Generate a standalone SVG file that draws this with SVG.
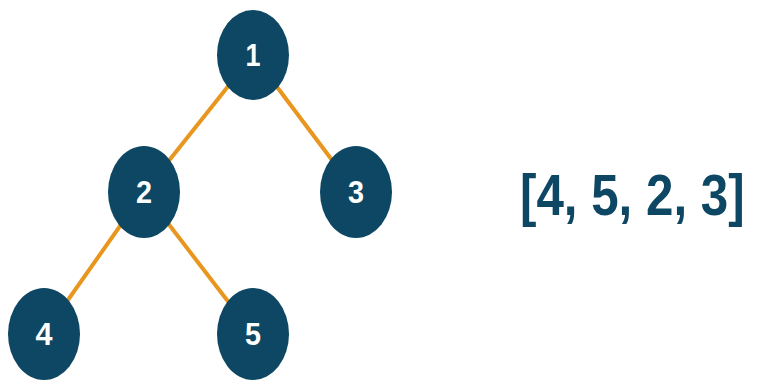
<svg xmlns="http://www.w3.org/2000/svg" width="767" height="385" viewBox="0 0 767 385">
<style>
.edge{stroke:#E8961E;stroke-width:4;fill:none}
.node ellipse{fill:#0D4763}
.node text{fill:#ffffff;font-family:"Liberation Sans",Arial,sans-serif;font-weight:bold;font-size:32px;text-anchor:middle}
.arr{fill:#0D4763;font-family:"Liberation Sans",Arial,sans-serif;font-weight:bold;font-size:58px}
</style>
<rect width="767" height="385" fill="#ffffff"/>
<g id="connectors">
<line class="edge" x1="253" y1="55" x2="144" y2="192"/>
<line class="edge" x1="253" y1="55" x2="356" y2="192"/>
<line class="edge" x1="144" y1="192" x2="44" y2="334"/>
<line class="edge" x1="144" y1="192" x2="253" y2="334"/>
</g>
<g id="node1" class="node"><ellipse cx="253" cy="55" rx="36" ry="45"/><text x="253" y="66" textLength="15" lengthAdjust="spacingAndGlyphs">1</text></g>
<g id="node2" class="node"><ellipse cx="144" cy="192" rx="36" ry="46"/><text x="144" y="203" textLength="16" lengthAdjust="spacingAndGlyphs">2</text></g>
<g id="node3" class="node"><ellipse cx="356" cy="192" rx="36" ry="46"/><text x="356" y="203" textLength="16" lengthAdjust="spacingAndGlyphs">3</text></g>
<g id="node4" class="node"><ellipse cx="44" cy="334" rx="36" ry="46"/><text x="44" y="345" textLength="17" lengthAdjust="spacingAndGlyphs">4</text></g>
<g id="node5" class="node"><ellipse cx="253" cy="334" rx="36" ry="46"/><text x="253" y="345" textLength="16" lengthAdjust="spacingAndGlyphs">5</text></g>
<text class="arr" transform="translate(520,215) scale(0.85,1)" x="0" y="0">[4, 5, 2, 3]</text>
</svg>
